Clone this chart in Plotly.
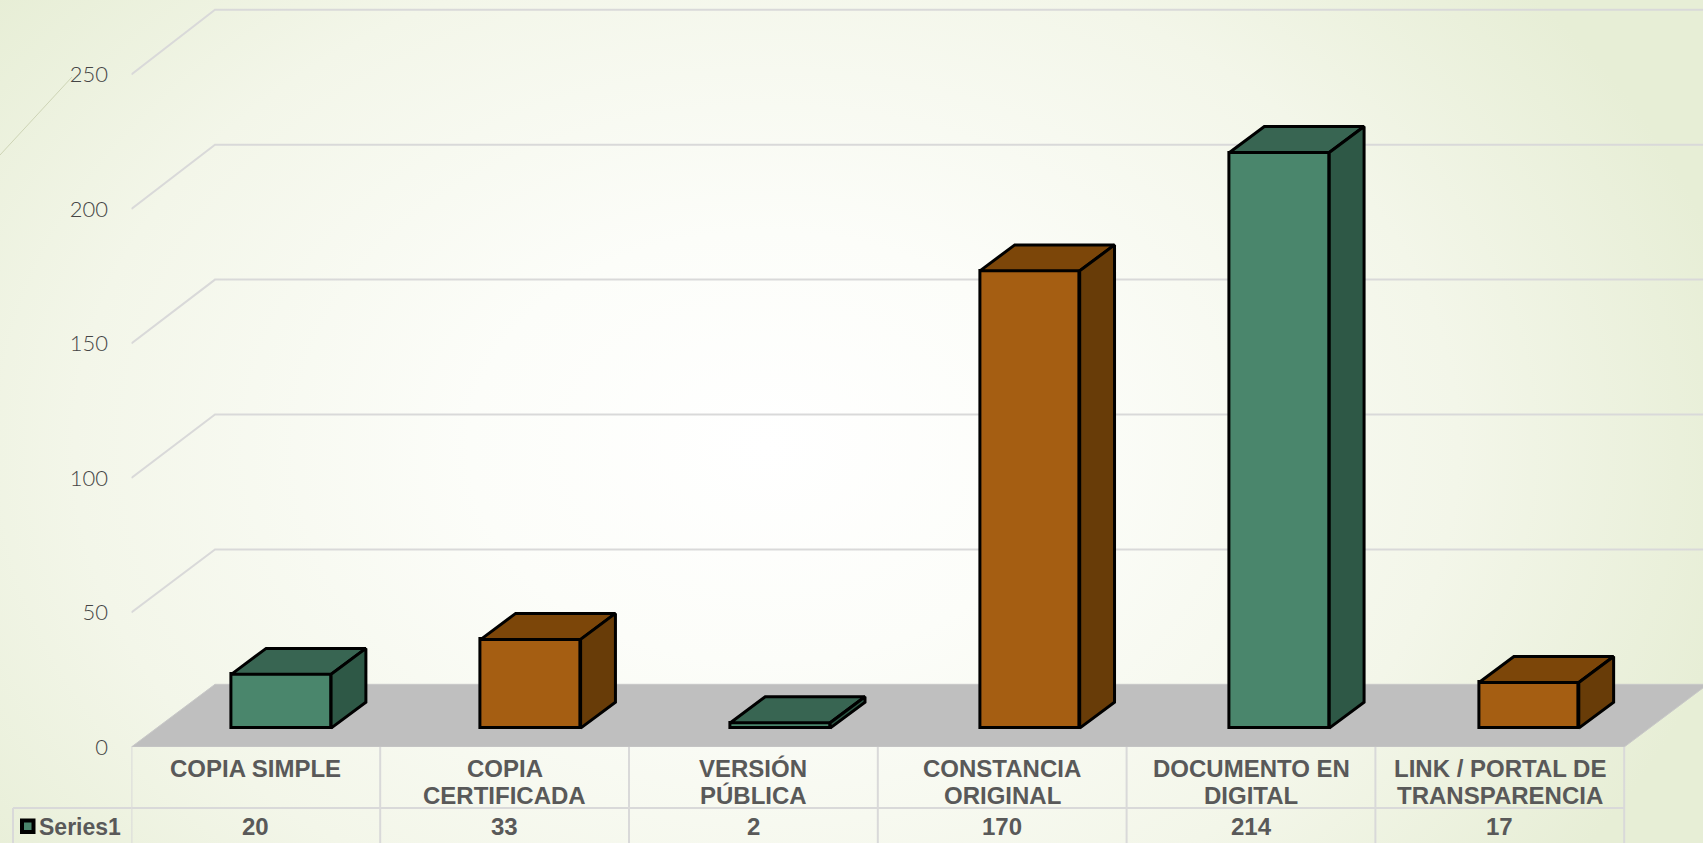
import plotly.graph_objects as go

categories = ["COPIA SIMPLE", "COPIA<br>CERTIFICADA", "VERSIÓN<br>PÚBLICA",
              "CONSTANCIA<br>ORIGINAL", "DOCUMENTO EN<br>DIGITAL",
              "LINK / PORTAL DE<br>TRANSPARENCIA"]
values = [20, 33, 2, 170, 214, 17]
y_ticks = [0, 50, 100, 150, 200, 250]
series_name = "Series1"

FRONT = {"g": "#4a866c", "o": "#a55e12"}
TOP = {"g": "#386552", "o": "#7c4609"}
SIDE = {"g": "#2e5846", "o": "#683c08"}
palette = ["g", "o", "g", "o", "g", "o"]

W, H = 1703, 843
LEFT_PX, FLOOR_PX = 131.4, 747.0
CAT_PX = 248.8
UNIT_PX = 2.69
WALL_DX, WALL_DY, WALL_SCALE = 0.336, 23.3, 1.003   # depth of the chart box, axis units
BAR_W = 0.401
BAR_DX, BAR_DY = 0.14, 9.66          # depth of a bar, axis units
BAR_START, BAR_STEP, BAR_BASE = 0.602, 1.003, 7.0   # where bars sit inside the box
EDGE = 3
GRID = "#d9d9d9"
TEXT = "#595959"

def py(px):
    return 1 - px / H

fig = go.Figure()
xs = [BAR_START + i * BAR_STEP for i in range(len(values))]
fig.add_trace(go.Bar(
    x=xs, y=values, base=[BAR_BASE] * len(values), width=BAR_W,
    marker=dict(color=[FRONT[c] for c in palette], line=dict(color="black", width=EDGE)),
    hoverinfo="skip"))
for x, v, c in zip(xs, values, palette):
    l, r = x - BAR_W / 2, x + BAR_W / 2
    t = BAR_BASE + v
    fig.add_trace(go.Scatter(
        x=[l, r, r + BAR_DX, l + BAR_DX, l], y=[t, t, t + BAR_DY, t + BAR_DY, t],
        mode="lines", fill="toself", fillcolor=TOP[c], hoverinfo="skip",
        line=dict(color="black", width=EDGE)))
    fig.add_trace(go.Scatter(
        x=[r, r + BAR_DX, r + BAR_DX, r, r],
        y=[BAR_BASE, BAR_BASE + BAR_DY, t + BAR_DY, t, BAR_BASE],
        mode="lines", fill="toself", fillcolor=SIDE[c], hoverinfo="skip",
        line=dict(color="black", width=EDGE)))

shapes = []
n = len(categories)
for v in y_ticks[1:]:
    back = v * WALL_SCALE + WALL_DY
    shapes.append(dict(type="path", xref="x", yref="y", layer="below",
                       path=f"M 0 {v} L {WALL_DX} {back} L {n + 1} {back}",
                       line=dict(color=GRID, width=2)))
shapes.append(dict(type="path", xref="x", yref="y", layer="below", fillcolor="#bfbfbf",
                   path=f"M 0 0 L {WALL_DX} {WALL_DY} L {n + WALL_DX} {WALL_DY} L {n} 0 Z",
                   line=dict(color="#c8c8c8", width=1)))
# data table rules
for i in range(n + 1):
    shapes.append(dict(type="line", xref="x", yref="paper", x0=i, x1=i, y0=0, y1=py(FLOOR_PX),
                       line=dict(color=GRID, width=2)))
shapes.append(dict(type="line", xref="paper", yref="paper", x0=13 / W, x1=LEFT_PX / W,
                   y0=py(808), y1=py(808), line=dict(color=GRID, width=2)))
shapes.append(dict(type="line", xref="x", yref="paper", x0=0, x1=n,
                   y0=py(808), y1=py(808), line=dict(color=GRID, width=2)))
shapes.append(dict(type="line", xref="paper", yref="paper", x0=13 / W, x1=13 / W,
                   y0=0, y1=py(808), line=dict(color=GRID, width=2)))
# legend key in the table
shapes.append(dict(type="rect", xref="paper", yref="paper", x0=22 / W, x1=33.5 / W,
                   y0=py(832), y1=py(820.5), fillcolor=FRONT["g"],
                   line=dict(color="black", width=4)))
# faint theme line, top left
shapes.append(dict(type="line", xref="paper", yref="paper", x0=0, x1=72 / W,
                   y0=py(155), y1=py(77), line=dict(color="#cdd4b5", width=1)))

ann = []
font = dict(family="Liberation Sans", size=24, color=TEXT)
for i, (cat, v) in enumerate(zip(categories, values)):
    for j, line in enumerate(cat.split("<br>")):
        ann.append(dict(x=i + 0.5, y=py(768 + 27 * j), xref="x", yref="paper", text=f"<b>{line}</b>",
                        showarrow=False, xanchor="center", yanchor="middle", font=font))
    ann.append(dict(x=i + 0.5, y=py(826.5), xref="x", yref="paper", text=f"<b>{v}</b>",
                    showarrow=False, xanchor="center", yanchor="middle", font=font))
ann.append(dict(x=37 / W, y=py(826.5), xref="paper", yref="paper", text=f"<b>{series_name}</b>",
                showarrow=False, xanchor="left", yanchor="middle",
                font=dict(family="Liberation Sans", size=23, color=TEXT)))

fig.update_layout(
    width=W, height=H, margin=dict(l=0, r=0, t=0, b=0), showlegend=False,
    paper_bgcolor="rgba(0,0,0,0)", plot_bgcolor="rgba(0,0,0,0)",
    shapes=shapes, annotations=ann, bargap=0,
    xaxis=dict(domain=[LEFT_PX / W, 1], range=[0, (W - LEFT_PX) / CAT_PX], automargin=False,
               showgrid=False, zeroline=False, showticklabels=False, ticks=""),
    yaxis=dict(domain=[py(FLOOR_PX), 1], range=[0, FLOOR_PX / UNIT_PX], automargin=False,
               tickvals=y_ticks, showgrid=False, zeroline=False,
               ticks="outside", ticklen=18, tickcolor="rgba(0,0,0,0)",
               tickfont=dict(family="Lato Light, Lato", size=22, color="#454545")),
)

background = """
document.documentElement.style.height='100%';
document.documentElement.style.overflow='hidden';
document.body.style.margin='0';
document.body.style.height='100%';
document.documentElement.style.background='radial-gradient(ellipse 58% 85% at 45% 53%, #ffffff 0%, #fcfdf9 30%, #f3f6e9 70%, #e7eed6 100%)';
"""
fig.write_html("out.html", post_script=background, config={"displayModeBar": False})
